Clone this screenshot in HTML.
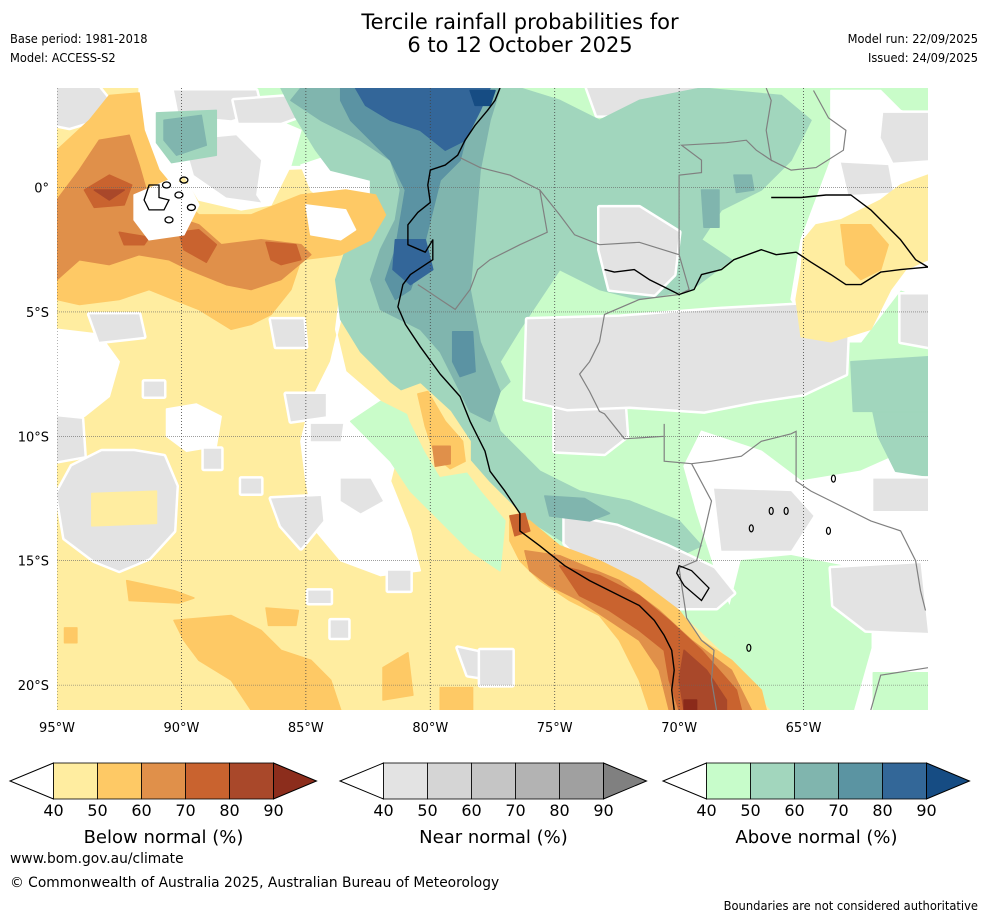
<!DOCTYPE html>
<html><head><meta charset="utf-8">
<style>
html,body{margin:0;padding:0;background:#fff;}
body{width:988px;height:919px;position:relative;overflow:hidden;font-family:"DejaVu Sans","Liberation Sans",sans-serif;color:#000;}
.t{position:absolute;white-space:nowrap;}
.sm{font-family:"DejaVu Sans Condensed","DejaVu Sans",sans-serif;font-size:12.7px;}
</style></head><body>
<div class="t" style="left:0;width:1040px;text-align:center;top:11px;font-size:21px;line-height:23px;font-family:'DejaVu Sans',sans-serif;">Tercile rainfall probabilities for<br>6 to 12 October 2025</div>
<div class="t sm" style="left:10px;top:31px;">Base period: 1981-2018</div>
<div class="t sm" style="left:10px;top:50px;">Model: ACCESS-S2</div>
<div class="t sm" style="right:10px;top:31px;">Model run: 22/09/2025</div>
<div class="t sm" style="right:10px;top:50px;">Issued: 24/09/2025</div>

<svg id="map" width="988" height="919" style="position:absolute;left:0;top:0" xmlns="http://www.w3.org/2000/svg"></svg>

<div class="t" style="left:10px;top:851px;font-size:13.8px;">www.bom.gov.au/climate</div>
<div class="t" style="left:10px;top:875px;font-size:13.8px;">© Commonwealth of Australia 2025, Australian Bureau of Meteorology</div>
<div class="t sm" style="right:10px;top:899px;font-size:12.8px;">Boundaries are not considered authoritative</div>

<script>
const lonMin=-95, lonMax=-60, latMax=4, latMin=-21;
const levelColors={
 b1:'#ffeda0',b2:'#fec965',b3:'#e0904a',b4:'#c9632f',b5:'#a9482a',b6:'#8b2a1a',
 n1:'#e3e3e3',a1:'#c9fcc9',a2:'#a1d6bd',a3:'#80b5ae',a4:'#5b93a3',a5:'#336699',a6:'#164c83',w:'#ffffff'};

const yellowBase=[[-95,4],[-91.3,4],[-91.3,1.5],[-90.3,0.5],[-85.2,0.7],[-84,0.7],[-82,0.3],[-81.2,-0.5],[-81.4,-1.7],[-82.8,-2.9],[-83.4,-4.1],[-82.4,-5.7],[-81.2,-7.4],[-80,-8.6],[-78.8,-10.2],[-77.6,-11.8],[-76.4,-13],[-74.8,-14.4],[-72.4,-15.6],[-70,-17],[-68.3,-18.6],[-66.3,-21],[-95,-21]];
const greenBase=[[-89.9,4],[-60,4],[-60,-21],[-66.3,-21],[-68.3,-18.6],[-70,-17],[-72.4,-15.6],[-74.8,-14.4],[-76.4,-13],[-77.6,-11.8],[-78.8,-10.2],[-80,-8.6],[-81.2,-7.4],[-82.4,-5.7],[-83.4,-4.1],[-82.8,-2.9],[-81.4,-1.7],[-81.2,-0.5],[-82,0.3],[-84,0.7],[-85.2,0.9],[-87.2,0.9],[-88.8,1.5],[-89.7,2.3]];
const whiteNW=[[-91.7,4],[-89.9,4],[-89.7,2.3],[-89.9,0.5],[-90.3,0.1],[-91.3,0.7],[-91.7,1.9]];
const whiteN=[[-89.9,2.7],[-86.6,2.9],[-85.2,2.3],[-85.6,0.9],[-86.4,-0.7],[-87.6,-0.9],[-89.3,-0.5],[-89.9,0.5]];
const whiteCoast=[[-85.2,0.9],[-83.4,1.5],[-82,1.1],[-81.6,-0.5],[-82.4,-2.5],[-83.6,-4.1],[-83.8,-5.7],[-83.4,-7.4],[-82,-8.6],[-81.2,-10.2],[-81.6,-11.8],[-80.8,-13.8],[-80.4,-15.4],[-82,-15.6],[-83.6,-15],[-84.6,-13.8],[-85,-11.8],[-85.2,-10.2],[-84.8,-8.6],[-84,-7.0],[-83.6,-5.3],[-83.4,-4.1],[-83.2,-2.5],[-83.6,-1.1],[-84.8,-0.1]];
const whiteSW=[[-95,-5.7],[-93.3,-5.9],[-92.5,-7],[-92.9,-8.4],[-93.9,-9.2],[-95,-9.4]];
const whiteMid=[[-90.6,-8.9],[-89.4,-8.7],[-88.4,-9.2],[-88.6,-10.4],[-89.8,-10.6],[-90.6,-10.0]];
const whiteNE=[[-63.9,3.9],[-61.9,3.9],[-61.1,3.1],[-60,2.7],[-60,-4.5],[-61.1,-4.1],[-62.7,-6.2],[-64.3,-6.2],[-65.5,-4.5],[-65.1,-2.1],[-64.5,-0.5],[-63.9,1.1]];
const whiteSE=[[-69.1,-9.8],[-66.7,-10.6],[-65.1,-11.8],[-62.7,-11.4],[-60,-10.2],[-60,-21],[-65,-21],[-66.3,-20],[-67.5,-17.8],[-68.5,-15.5],[-69.3,-13],[-69.8,-11.2]];
const grayPatches=[
 [[-95,4],[-93.3,4],[-92.9,3.5],[-93.5,2.7],[-94.5,2.4],[-95,2.5]],
 [[-90.3,3.9],[-87,3.9],[-86.8,3.1],[-88,2.7],[-90.1,2.9]],
 [[-89.9,1.9],[-87.8,2.1],[-86.8,1.1],[-87,-0.3],[-86.8,-0.6],[-88.2,-0.4],[-89.5,0.5]],
 [[-87.9,3.5],[-85.2,3.7],[-84.6,3.1],[-86,2.6],[-87.7,2.6]],
 [[-93.7,-5.1],[-91.7,-5.1],[-91.5,-6.0],[-93.3,-6.2]],
 [[-86.4,-5.3],[-85.1,-5.3],[-85,-6.4],[-86.2,-6.4]],
 [[-95,-9.2],[-94,-9.3],[-93.9,-10.8],[-95,-11]],
 [[-95,-12.3],[-94.4,-11.2],[-93.2,-10.6],[-91.9,-10.6],[-90.7,-10.8],[-90.2,-12],[-90.3,-13.8],[-91.3,-14.9],[-92.5,-15.4],[-93.5,-15],[-94.7,-14.1]],
 [[-89.1,-10.5],[-88.4,-10.5],[-88.4,-11.3],[-89.1,-11.3]],
 [[-87.6,-11.7],[-86.8,-11.7],[-86.8,-12.3],[-87.6,-12.3]],
 [[-86.4,-12.5],[-84.4,-12.4],[-84.3,-13.4],[-85.2,-14.5],[-86,-13.6]],
 [[-85.8,-8.3],[-84.2,-8.3],[-84.2,-9.2],[-85.6,-9.4]],
 [[-84.8,-9.5],[-83.5,-9.5],[-83.6,-10.2],[-84.8,-10.2]],
 [[-83.6,-11.7],[-82.4,-11.7],[-81.9,-12.6],[-82.8,-13.1],[-83.6,-12.6]],
 [[-81.7,-15.4],[-80.8,-15.4],[-80.8,-16.2],[-81.7,-16.2]],
 [[-91.5,-7.8],[-90.7,-7.8],[-90.7,-8.4],[-91.5,-8.4]],
 [[-84.9,-16.2],[-84,-16.2],[-84,-16.7],[-84.9,-16.7]],
 [[-84,-17.4],[-83.3,-17.4],[-83.3,-18.1],[-84,-18.1]],
 [[-78.9,-18.5],[-77.5,-18.8],[-77.2,-19.8],[-78.5,-19.6]],
 [[-73.7,4],[-69.3,4],[-69.5,3.2],[-71.5,2.9],[-73.3,2.9]],
 [[-61.8,3.0],[-60,3.0],[-60,1.1],[-61.4,1.0],[-61.9,2.0]],
 [[-63.5,1.0],[-61.6,0.9],[-61.4,-0.2],[-63.2,-0.3]],
 [[-61.1,-4.3],[-60,-4.3],[-60,-6.4],[-61.1,-6.2]],
 [[-75,-8.6],[-72.2,-8.6],[-72.1,-10],[-73,-10.7],[-75,-10.6]],
 [[-78,-18.6],[-76.7,-18.6],[-76.7,-20],[-78,-20]]];
const grayLate=[
 [[-73.2,-0.8],[-71.6,-0.8],[-70,-1.8],[-70.2,-3.5],[-71,-4.3],[-72.8,-4.1],[-73.2,-2.5]],
 [[-76.1,-5.3],[-72.4,-5.2],[-68.5,-4.9],[-65,-4.7],[-63.2,-5.1],[-63.3,-7.5],[-65,-8.3],[-67,-8.6],[-69,-9],[-72,-8.8],[-74.5,-8.9],[-76.2,-8.5]],
 [[-68.6,-12.1],[-65.5,-12.2],[-64.6,-13.2],[-65.5,-14.6],[-68.3,-14.6]],
 [[-63.9,-15.3],[-60.3,-15.1],[-60,-17.9],[-62.5,-17.8],[-63.8,-16.8]],
 [[-62.2,-11.7],[-60,-11.7],[-60,-13],[-62.2,-13]],
 [[-74.6,-13.2],[-72.5,-13.6],[-70.5,-14.4],[-68.6,-15.3],[-67.8,-16.3],[-68.5,-16.9],[-70.2,-16.9],[-72,-16.1],[-73.8,-15.1],[-74.6,-14.3]]];
const greenSE=[[-67.5,-15],[-65.5,-14.8],[-63.5,-15.2],[-62.3,-16.5],[-62.3,-18.5],[-63,-21],[-66.3,-21],[-67.5,-19],[-68,-17]];
const greenSE2=[[-62.2,-19.5],[-60,-19.5],[-60,-21],[-62.2,-21]];
const greenOff=[[-83.2,-9.4],[-82,-8.6],[-80.4,-9.4],[-79.2,-10.6],[-78,-12.2],[-77,-13.4],[-77.2,-15.4],[-78.4,-14.6],[-79.6,-13.4],[-80.8,-12.2],[-81.6,-11]];
const yellowNE=[[-65,-2.1],[-64.5,-1.5],[-63.5,-1.3],[-61.9,-0.5],[-61.1,0.1],[-60,0.5],[-60,-2.9],[-60.9,-3.3],[-61.5,-4.1],[-62.3,-5.7],[-63.9,-6.2],[-65.1,-6.0],[-65.3,-4.5],[-65.1,-3.3]];
const orangeNE=[[-63.5,-1.5],[-62.3,-1.5],[-61.6,-2.3],[-61.9,-3.3],[-62.7,-3.7],[-63.3,-3.1]];
const aboveL2=[
 [[-76.4,4],[-74.8,3.5],[-73.2,2.7],[-71.6,3.5],[-69.1,4],[-65.9,3.7],[-64.7,2.7],[-65.5,1.1],[-66.7,-0.1],[-68.3,-0.9],[-69.1,-2.1],[-67.9,-2.9],[-69.5,-4.1],[-71.6,-4.5],[-73.2,-4.1],[-74.8,-3.3],[-75.6,-4.5],[-76.4,-5.7],[-77.2,-7.0],[-76.8,-7.8],[-77.6,-8.6],[-78.4,-7.8],[-79.2,-5.7],[-79.6,-4.1],[-78.8,-2.5],[-78.4,-0.5],[-78,1.5],[-78,3.1]],
 [[-86,4],[-76.4,4],[-78,3.1],[-78,1.5],[-78.4,-0.5],[-78.8,-2.5],[-79.6,-4.1],[-79.2,-5.7],[-78.4,-7.8],[-77.6,-8.6],[-77.2,-9.8],[-75.6,-11.4],[-74,-12.2],[-72,-12.6],[-70,-13.4],[-69.1,-14.4],[-70.4,-15],[-72.4,-15],[-74.4,-14.4],[-76,-13.4],[-77.6,-11.8],[-79,-10.2],[-80,-9],[-81.6,-7.8],[-82.8,-6.6],[-83.6,-5.3],[-83.8,-3.7],[-83.4,-2.5],[-82.4,-0.9],[-82.4,0.3],[-84,0.7],[-84.6,1.5],[-85.4,2.8]],
 [[-91,3],[-88.6,3.1],[-88.6,1.3],[-90.4,1.0],[-91,1.8]],
 [[-62.3,-8.6],[-60,-8.4],[-60,-11.6],[-61.3,-11.4],[-62,-10]],
 [[-63.1,-7],[-60,-6.8],[-60,-9],[-63,-9]]];
const aboveL3=[
 [[-85.2,4],[-77.2,4],[-77.6,2.7],[-78,0.7],[-78.2,-1.7],[-78.4,-4.1],[-78,-6.2],[-77.2,-8.2],[-77.6,-9.4],[-78.4,-9],[-79,-7.8],[-79.6,-6.6],[-80.4,-5.7],[-81.2,-5.3],[-82,-4.9],[-82.4,-3.7],[-82,-2.5],[-81.4,-1.3],[-81.2,-0.1],[-81.6,1.1],[-82.8,1.9],[-84.4,2.7],[-85.6,3.5]],
 [[-75.4,-12.4],[-73.8,-12.5],[-72.8,-13.1],[-73.6,-13.4],[-75.2,-13.2]],
 [[-90.7,2.7],[-89.2,2.9],[-89.0,1.7],[-90.2,1.3],[-90.7,1.9]],
 [[-67.8,0.5],[-67.1,0.5],[-67,-0.1],[-67.7,-0.2]],
 [[-69.1,-0.1],[-68.4,-0.1],[-68.4,-1.6],[-69.0,-1.6]]];
const aboveL4=[
 [[-83.6,4],[-78,4],[-78.4,2.7],[-78.8,1.1],[-79.6,0.3],[-80,-1.3],[-80.4,-2.9],[-80.8,-4.1],[-81.4,-4.5],[-81.8,-3.7],[-81.4,-2.5],[-81.2,-1.3],[-81,-0.1],[-81.6,1.1],[-82.4,1.9],[-83.2,2.7],[-83.6,3.5]],
 [[-79.1,-5.8],[-78.3,-5.8],[-78.2,-7.4],[-78.8,-7.6],[-79.1,-7]]];
const aboveL5=[
 [[-83,4],[-77.6,4],[-78,3.1],[-78.6,1.9],[-79.4,1.5],[-80.4,2.3],[-81.6,2.7],[-82.6,3.3]],
 [[-81.4,-2.1],[-80.2,-2.1],[-79.9,-3.3],[-80.8,-3.9],[-81.5,-3.3]]];
const aboveL6=[[[-78.4,3.9],[-77.4,3.9],[-77.6,3.3],[-78.2,3.3]]];
const belowL1=[
 [[-81.2,-8.2],[-80.4,-7.9],[-79.2,-9],[-78.4,-10.2],[-78.4,-11.4],[-79.6,-11.6],[-80.2,-10.6],[-80.8,-9.4]],
 [[-93.6,-12.3],[-91,-12.2],[-91,-13.5],[-93.6,-13.6]]];
const belowL2=[
 [[-95,1.5],[-93.7,2.7],[-92.9,3.7],[-91.7,3.8],[-91.5,2.3],[-90.9,0.7],[-89.9,-0.5],[-89.3,-1.1],[-87.2,-1.1],[-85.2,-0.3],[-83.4,-0.1],[-82.2,-0.3],[-81.8,-1.1],[-82.4,-2.1],[-83.6,-2.7],[-85.2,-2.9],[-85.6,-4.1],[-86.4,-5.1],[-87.2,-5.5],[-88,-5.7],[-89.3,-4.9],[-90.3,-4.5],[-91.3,-4.1],[-92.5,-4.5],[-94.1,-4.7],[-95,-4.5]],
 [[-76.8,-13.2],[-76,-13.4],[-74.8,-14.4],[-73.2,-15],[-71.6,-15.8],[-70,-17],[-69.1,-18.2],[-67.9,-19],[-66.7,-20.2],[-66.5,-21],[-71.2,-21],[-71.6,-19.8],[-72.4,-18.2],[-73.2,-17.2],[-74.4,-16.6],[-75.6,-15.8],[-76.4,-15],[-76.8,-14.2]],
 [[-80.5,-8.3],[-80.1,-8.2],[-79.4,-9.4],[-78.7,-10.2],[-78.6,-11],[-79.2,-11.3],[-79.8,-10.8],[-80.2,-9.6]],
 [[-92.2,-15.8],[-90.3,-16.2],[-89.5,-16.5],[-90.1,-16.7],[-92.1,-16.6]],
 [[-90.3,-17.4],[-88,-17.2],[-86.8,-17.8],[-86,-18.6],[-84.8,-19],[-84,-19.8],[-83.6,-21],[-87.2,-21],[-88,-19.8],[-89.3,-19],[-89.9,-18.2]],
 [[-86.6,-16.9],[-85.3,-17],[-85.4,-17.6],[-86.5,-17.6]],
 [[-94.7,-17.7],[-94.2,-17.7],[-94.2,-18.3],[-94.7,-18.3]],
 [[-81.9,-19.3],[-80.9,-18.7],[-80.7,-20.4],[-81.9,-20.6]],
 [[-79.6,-20.1],[-78.3,-20.1],[-78.3,-21],[-79.6,-21]]];
const belowL3=[
 [[-95,-0.5],[-94.1,0.7],[-93.3,1.9],[-92.1,2.1],[-91.7,0.9],[-91.3,-0.5],[-90.5,-1.1],[-89.3,-1.5],[-88.4,-2.3],[-86.8,-2.1],[-85.2,-2.3],[-84.8,-2.7],[-86,-3.7],[-87.2,-4.1],[-88.2,-3.9],[-89.7,-3.3],[-90.5,-2.9],[-91.7,-2.7],[-92.9,-3.1],[-94.1,-2.9],[-95,-3.7]],
 [[-76.2,-14.6],[-74.8,-14.8],[-72.4,-15.8],[-70.8,-17],[-69.5,-18.2],[-67.9,-19.4],[-67.1,-21],[-70.4,-21],[-70.8,-19.4],[-71.6,-18.2],[-72.8,-17.4],[-74,-16.6],[-75.2,-16],[-76,-15.4]],
 [[-79.9,-10.4],[-79.2,-10.4],[-79.2,-11.1],[-79.8,-11.2]]];
const belowL4=[
 [[-93.9,-0.1],[-92.9,0.5],[-92,0.1],[-92.3,-0.7],[-93.5,-0.8]],
 [[-90.1,-1.8],[-89.3,-1.7],[-88.6,-2.3],[-89,-3],[-89.9,-2.5]],
 [[-86.6,-2.2],[-85.4,-2.3],[-85.2,-2.9],[-86,-3.1],[-86.4,-2.9]],
 [[-92.5,-1.8],[-91.3,-2],[-91.5,-2.3],[-92.3,-2.3]],
 [[-74.8,-15.2],[-73.2,-15.6],[-71.6,-16.4],[-70.4,-17.4],[-69.1,-18.6],[-67.7,-20.2],[-67.5,-21],[-70,-21],[-70.4,-19.8],[-70.6,-18.6],[-71.6,-17.8],[-72.8,-17],[-74,-16.4]],
 [[-76.8,-13.2],[-76.2,-13.1],[-76,-13.8],[-76.6,-14]]];
const belowL5=[
 [[-93.5,-0.1],[-92.3,-0.1],[-92.9,-0.5]],
 [[-69.8,-18.6],[-68.9,-19.4],[-68.1,-20.6],[-68.1,-21],[-69.8,-21],[-70,-19.8]]];
const belowL6=[[[-69.8,-20.6],[-69.3,-20.6],[-69.3,-21],[-69.8,-21]]];
const whiteGaps=[
 [[-91.9,-0.3],[-90.5,0.3],[-89.7,0.1],[-89.3,-0.7],[-89.9,-1.9],[-91.3,-2.1],[-91.9,-1.3]],
 [[-85,-0.7],[-83.4,-0.9],[-83,-1.7],[-83.6,-2.1],[-84.8,-1.9]]];

const coastline=[[-77.2,4],[-77.4,3.5],[-77.7,3.1],[-78.2,2.5],[-78.6,1.9],[-78.9,1.3],[-79.4,0.9],[-80,0.7],[-80.1,0.1],[-80,-0.6],[-80.5,-1],[-80.9,-1.5],[-80.9,-2.3],[-80.2,-2.6],[-79.9,-2.1],[-79.9,-2.9],[-80.8,-3.5],[-81.1,-3.9],[-81.3,-4.8],[-81,-5.5],[-80.4,-6.4],[-79.6,-7.5],[-78.8,-8.4],[-78.4,-9.4],[-77.8,-10.6],[-77.6,-11.4],[-77,-12.2],[-76.4,-13.1],[-76.4,-13.8],[-75.6,-14.4],[-74.6,-15.2],[-73.6,-15.8],[-72.8,-16.2],[-71.6,-16.8],[-71,-17.4],[-70.6,-18],[-70.3,-18.6],[-70.2,-19.4],[-70.3,-20.2],[-70.2,-21]];
const amazon=[[-73,-3.3],[-72.6,-3.4],[-71.8,-3.3],[-71.2,-3.7],[-70.4,-4.1],[-70,-4.3],[-69.4,-4.1],[-69.1,-3.5],[-68.3,-3.3],[-67.8,-2.9],[-66.7,-2.5],[-66.1,-2.7],[-65.3,-2.6],[-64.7,-3],[-63.9,-3.5],[-63.3,-3.9],[-62.7,-3.9],[-61.9,-3.4],[-61.1,-3.3],[-60,-3.2]];
const rioNegro=[[-66.3,-0.4],[-65.1,-0.4],[-64.1,-0.3],[-63.1,-0.3],[-62.3,-0.9],[-61.7,-1.5],[-61.1,-2.1],[-60.5,-2.9],[-60,-3.2]];
const borders=[
 [[-78.8,1.2],[-78,0.8],[-76.8,0.5],[-75.6,-0.1],[-75.3,-1.8],[-76.4,-2.3],[-77.6,-2.9],[-78.1,-3.3],[-78.4,-4.1],[-79,-4.9],[-79.6,-4.5],[-80.2,-4.1],[-80.5,-3.9]],
 [[-75.6,-0.1],[-74.8,-1.1],[-74.2,-1.9],[-73.2,-2.3],[-71.6,-2.2],[-70,-2.7]],
 [[-70,-2.7],[-70,-1],[-70,0.5],[-69.1,0.6],[-69.1,1.1],[-69.9,1.7],[-68.1,1.8],[-67.3,1.9],[-66.9,1.5],[-66.3,1.1],[-66.5,2.3],[-66.3,3.5],[-66.5,4]],
 [[-66.3,1.1],[-65.5,0.7],[-64.5,0.8],[-63.4,1.5],[-63.3,2.3],[-64,2.8],[-64.6,3.9]],
 [[-70,-2.7],[-69.6,-4.1],[-70,-4.3],[-71.6,-4.5],[-73,-5.1],[-73.2,-6.2],[-73.6,-7],[-74,-7.5],[-73.6,-8.2],[-73.2,-9],[-73,-9.1],[-72.2,-10.1],[-70.6,-10],[-70.6,-9.5],[-70.6,-11],[-69.5,-11.1],[-68.7,-11],[-67.5,-10.8],[-66.7,-10.2],[-65.5,-9.9],[-65.3,-9.8],[-65.3,-11.8],[-64.7,-12.2],[-63.9,-12.6],[-63.1,-13],[-62.3,-13.4],[-61.1,-13.8],[-60.5,-15],[-60.3,-16.2],[-60.1,-17]],
 [[-69.5,-11.1],[-68.7,-12.6],[-69,-13.9],[-69.3,-15],[-70,-15.3],[-69.7,-17.3],[-69.1,-18.2],[-68.6,-18.6],[-68.7,-19.8],[-68.5,-21]],
 [[-62.3,-21],[-61.9,-19.6],[-60,-19.3]]];
const titicaca=[[-70,-15.2],[-69.5,-15.4],[-68.8,-16.1],[-69.1,-16.6],[-69.8,-16],[-70.1,-15.5]];
const isabela=[[-91.3,0.1],[-90.9,0.1],[-90.9,-0.4],[-90.5,-0.5],[-90.7,-0.9],[-91.3,-0.9],[-91.5,-0.5]];
const smallIslands=[[-90.1,-0.3],[-89.6,-0.8],[-90.6,0.1],[-90.5,-1.3],[-89.9,0.3]];
const smallLakes=[[-67.1,-13.7],[-66.3,-13],[-65.7,-13],[-64,-13.8],[-67.2,-18.5],[-63.8,-11.7]];

const lonTicks=[-95,-90,-85,-80,-75,-70,-65];
const lonTickLabels=['95°W','90°W','85°W','80°W','75°W','70°W','65°W'];
const latTicks=[0,-5,-10,-15,-20];
const latTickLabels=['0°','5°S','10°S','15°S','20°S'];

const cbLevels=['40','50','60','70','80','90'];
const cbTitles=['Below normal (%)','Near normal (%)','Above normal (%)'];
const cbColors=[
 ['#ffeda0','#fec965','#e0904a','#c9632f','#a9482a','#8c2d1c'],
 ['#e3e3e3','#d5d5d5','#c5c5c5','#b3b3b3','#a0a0a0','#808080'],
 ['#c7fcca','#a2d6bd','#80b5ae','#5b94a2','#336798','#164c83']];

const X0=57,X1=928,Y0=88,Y1=710;
function xs(lon){return X0+(lon-lonMin)/(lonMax-lonMin)*(X1-X0);}
function ys(lat){return Y0+(latMax-lat)/(latMax-latMin)*(Y1-Y0);}
const NS='http://www.w3.org/2000/svg';
const svg=document.getElementById('map');
function mk(tag,attrs,parent){const e=document.createElementNS(NS,tag);for(const k in attrs)e.setAttribute(k,attrs[k]);(parent||svg).appendChild(e);return e;}
function pts(p){return p.map(q=>xs(q[0]).toFixed(1)+','+ys(q[1]).toFixed(1)).join(' ');}

const defs=mk('defs',{});
const cp=mk('clipPath',{id:'clip'},defs);
mk('rect',{x:X0,y:Y0,width:X1-X0,height:Y1-Y0},cp);
const g=mk('g',{'clip-path':'url(#clip)'});


mk('rect',{x:X0,y:Y0,width:X1-X0,height:Y1-Y0,fill:'#fff'},g);

function region(p,col,name,border){
  const e=mk('polygon',{points:pts(p),fill:levelColors[col],stroke:border?'#fff':levelColors[col],'stroke-width':border?5:1.5,'stroke-linejoin':'round','paint-order':'stroke'},g);
  
  
}
region(yellowBase,'b1','below-40-region');
region(greenBase,'a1','above-40-region');
region(whiteNW,'w','neutral-region');
region(whiteN,'w','neutral-region');
region(whiteCoast,'w','neutral-region');
region(whiteSW,'w','neutral-region');
region(whiteMid,'w','neutral-region');
region(greenOff,'a1','above-40-region');
region(whiteNE,'w','neutral-region');
region(whiteSE,'w','neutral-region');
region(greenSE,'a1','above-40-region');
region(greenSE2,'a1','above-40-region');
grayPatches.forEach(p=>region(p,'n1','near-normal-region',true));
aboveL2.forEach(p=>region(p,'a2','above-50-region'));
grayLate.forEach(p=>region(p,'n1','near-normal-region',true));
region(yellowNE,'b1','below-40-region');
region(orangeNE,'b2','below-50-region');
aboveL3.forEach(p=>region(p,'a3','above-60-region'));
aboveL4.forEach(p=>region(p,'a4','above-70-region'));
aboveL5.forEach(p=>region(p,'a5','above-80-region'));
aboveL6.forEach(p=>region(p,'a6','above-90-region'));
belowL1.forEach(p=>region(p,'b1','below-40-region'));
belowL2.forEach(p=>region(p,'b2','below-50-region'));
belowL3.forEach(p=>region(p,'b3','below-60-region'));
belowL4.forEach(p=>region(p,'b4','below-70-region'));
belowL5.forEach(p=>region(p,'b5','below-80-region'));
belowL6.forEach(p=>region(p,'b6','below-90-region'));
whiteGaps.forEach(p=>region(p,'w','neutral-region'));

lonTicks.forEach(l=>{const e=mk('line',{x1:xs(l),x2:xs(l),y1:Y0,y2:Y1,stroke:'#444','stroke-width':0.8,'stroke-dasharray':'1,2'},g);
 
 });
latTicks.forEach(l=>{const e=mk('line',{x1:X0,x2:X1,y1:ys(l),y2:ys(l),stroke:'#666','stroke-width':0.6,'stroke-dasharray':'1,1'},g);
 
 });

borders.forEach(b=>{const e=mk('polyline',{points:pts(b),fill:'none',stroke:'#808080','stroke-width':1.2},g);
 
 });
[coastline,amazon,rioNegro].forEach((c,i)=>{const e=mk('polyline',{points:pts(c),fill:'none',stroke:'#000','stroke-width':1.4,'stroke-linejoin':'round'},g);
 
 });
[titicaca,isabela].forEach(c=>{const e=mk('polygon',{points:pts(c),fill:'none',stroke:'#000','stroke-width':1.3},g);
 
 });
smallIslands.forEach(c=>{const e=mk('ellipse',{cx:xs(c[0]),cy:ys(c[1]),rx:4,ry:3,fill:'none',stroke:'#000','stroke-width':1.3},g);
 
 });
smallLakes.forEach(c=>{const e=mk('ellipse',{cx:xs(c[0]),cy:ys(c[1]),rx:2,ry:3.5,fill:'none',stroke:'#000','stroke-width':1.2},g);
 
 });

lonTicks.forEach((l,i)=>{const t=mk('text',{x:xs(l),y:732,'text-anchor':'middle','font-size':13,'font-family':'DejaVu Sans, sans-serif'});t.textContent=lonTickLabels[i];
 
 });
latTicks.forEach((l,i)=>{const t=mk('text',{x:49,y:ys(l)+5,'text-anchor':'end','font-size':13,'font-family':'DejaVu Sans, sans-serif'});t.textContent=latTickLabels[i];
 
 });

const cbOffsets=[0,330,653];
cbOffsets.forEach((off,k)=>{
  const cg=mk('g',{});
  
  
  const x0=53.5+off, w=44, yt=763, yb=799, ym=781;
  mk('polygon',{points:`${x0},${yt} ${10+off},${ym} ${x0},${yb}`,fill:'#fff',stroke:'#000','stroke-width':1},cg);
  for(let i=0;i<5;i++){mk('rect',{x:x0+i*w,y:yt,width:w,height:yb-yt,fill:cbColors[k][i],stroke:'#000','stroke-width':0.8},cg);}
  mk('polygon',{points:`${x0+5*w},${yt} ${x0+5*w+43},${ym} ${x0+5*w},${yb}`,fill:cbColors[k][5],stroke:'#000','stroke-width':1},cg);
  cbLevels.forEach((lv,i)=>{const t=mk('text',{x:x0+i*w,y:816,'text-anchor':'middle','font-size':16,'font-family':'DejaVu Sans, sans-serif'},cg);t.textContent=lv;
    
    });
  const tt=mk('text',{x:x0+2.5*w,y:843,'text-anchor':'middle','font-size':18,'font-family':'DejaVu Sans, sans-serif'},cg);tt.textContent=cbTitles[k];
  
  
});
</script>
</body></html>
